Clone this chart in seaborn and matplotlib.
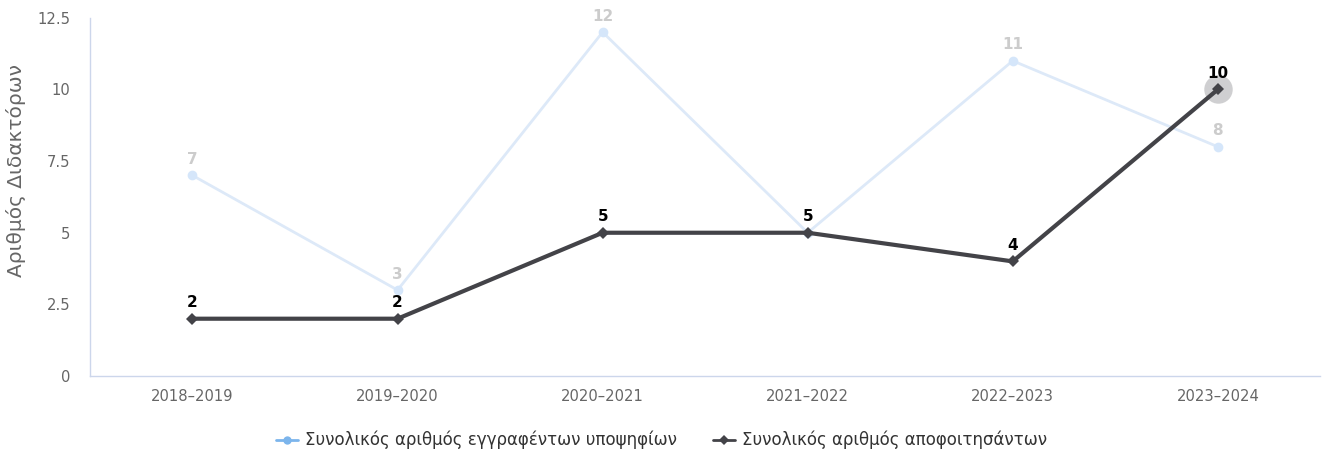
import matplotlib
matplotlib.use("Agg")
import matplotlib.pyplot as plt
import seaborn as sns
import pandas as pd
from matplotlib.lines import Line2D

years = ["2018–2019", "2019–2020", "2020–2021", "2021–2022", "2022–2023", "2023–2024"]
enrolled = [7, 3, 12, 5, 11, 8]
graduated = [2, 2, 5, 5, 4, 10]
enrolled_name = "Συνολικός αριθμός εγγραφέντων υποψηφίων"
graduated_name = "Συνολικός αριθμός αποφοιτησάντων"

sns.set_style("white")
plt.rcParams['font.family'] = ['DejaVu Sans']

df = pd.DataFrame({"pos": range(len(years)), "year": years,
                   "enrolled": enrolled, "graduated": graduated})

fig = plt.figure(figsize=(13.23, 4.5), dpi=100)
ax = fig.add_axes([0.068, 0.1644, 0.930, 0.796])

# faded (inactive) series
sns.lineplot(data=df, x="pos", y="enrolled", ax=ax, color="#dde9f8", lw=2,
             marker="o", markersize=7, markeredgewidth=0, markerfacecolor="#d5e6fa",
             zorder=2)
# highlighted series
sns.lineplot(data=df, x="pos", y="graduated", ax=ax, color="#434348", lw=3,
             marker="D", markersize=6, markeredgewidth=0, zorder=3)
# hover halo on last point
ax.scatter([df["pos"].iloc[-1]], [graduated[-1]], s=420, color="#434348",
           alpha=0.25, linewidths=0, zorder=2.5)

for x, v in zip(df["pos"], enrolled):
    ax.annotate(str(v), (x, v), xytext=(0, 6), textcoords="offset points",
                ha="center", va="bottom", fontsize=11, color="#cccccc", fontweight="bold")
for x, v in zip(df["pos"], graduated):
    ax.annotate(str(v), (x, v), xytext=(0, 6), textcoords="offset points",
                ha="center", va="bottom", fontsize=11, color="black", fontweight="bold")

ax.set_xlim(-0.5, 5.5)
ax.set_ylim(0, 12.5)
ax.set_xticks(df["pos"])
ax.set_xticklabels(years)
ax.set_yticks([0, 2.5, 5, 7.5, 10, 12.5])
ax.set_yticklabels(["0", "2.5", "5", "7.5", "10", "12.5"])
ax.tick_params(axis="both", colors="#666666", labelsize=10.6, length=0)
ax.tick_params(axis="y", pad=14)
ax.tick_params(axis="x", pad=9)
ax.set_xlabel("")
ax.set_ylabel("Αριθμός Διδακτόρων", color="#666666", fontsize=14.5)
ax.yaxis.set_label_coords(-0.052, 0.573)

for s in ["top", "right"]:
    ax.spines[s].set_visible(False)
for s in ["left", "bottom"]:
    ax.spines[s].set_color("#ccd6eb")
    ax.spines[s].set_linewidth(1)

handles = [
    Line2D([], [], color="#7cb5ec", lw=2, marker="o", markersize=6, markeredgewidth=0),
    Line2D([], [], color="#434348", lw=2, marker="D", markersize=5, markeredgewidth=0),
]
fig.legend(handles, [enrolled_name, graduated_name], loc="center",
           bbox_to_anchor=(0.5, 0.022), ncol=2, frameon=False, fontsize=12,
           handlelength=1.3, handletextpad=0.4, columnspacing=2.2,
           labelcolor="#333333")

fig.savefig("out.png", dpi=100)
